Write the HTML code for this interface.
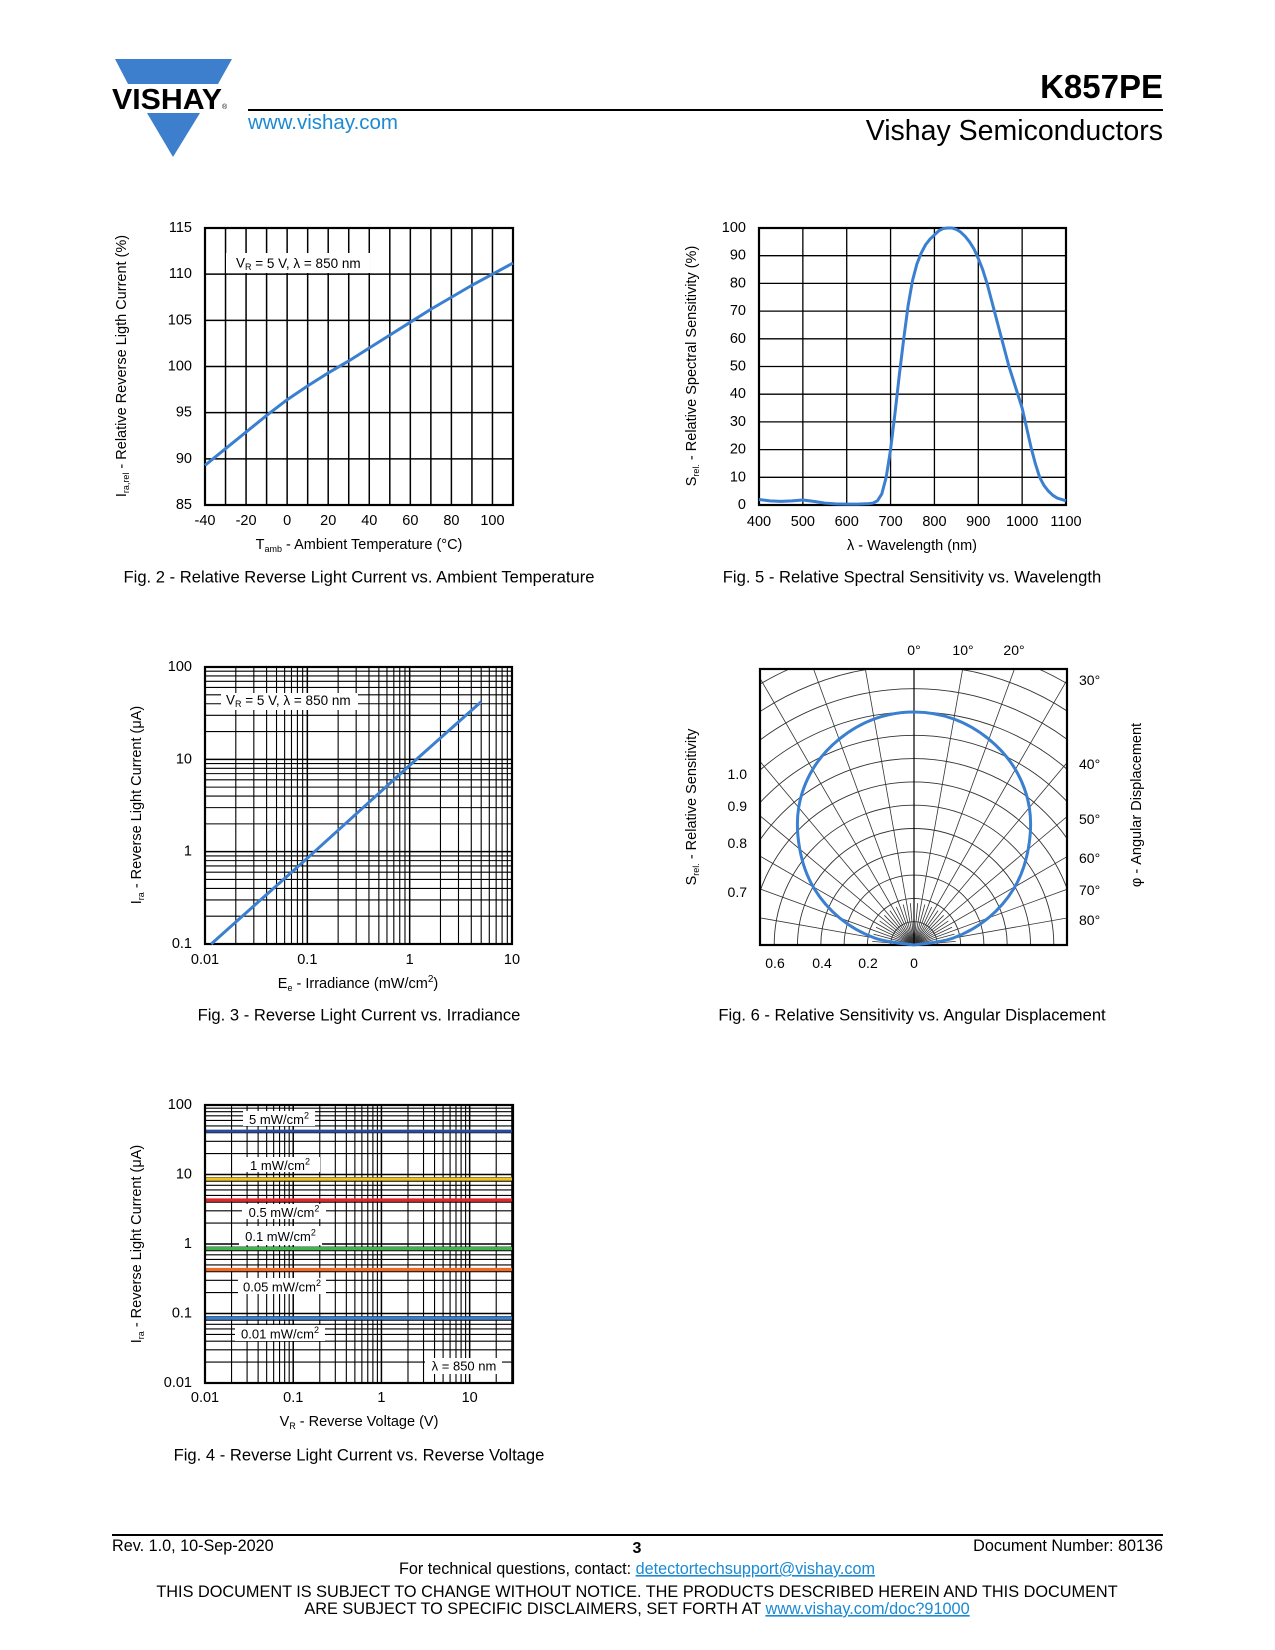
<!DOCTYPE html>
<html><head><meta charset="utf-8">
<style>
html,body{margin:0;padding:0;background:#fff;}
svg{display:block;font-family:"Liberation Sans",Arial,sans-serif;}
text{fill:#000;}
</style></head>
<body>
<svg id="page" width="1275" height="1650" viewBox="0 0 1275 1650" xmlns="http://www.w3.org/2000/svg">
<!-- header -->
<g>
  <polygon points="115,59 232,59 218,84 128,84" fill="#3d7fcc"/>
  <text x="112" y="109" font-size="29" font-weight="bold" textLength="110" lengthAdjust="spacingAndGlyphs">VISHAY</text>
  <text x="222" y="109" font-size="7">®</text>
  <polygon points="147,113 200,113 173,157" fill="#3d7fcc"/>
  <line x1="248" y1="110" x2="1163" y2="110" stroke="#000" stroke-width="2"/>
  <text x="248" y="129" font-size="20.5" style="fill:#1a8ad4">www.vishay.com</text>
  <text x="1163" y="98" font-size="33" font-weight="bold" text-anchor="end">K857PE</text>
  <text x="1163" y="140" font-size="28.5" text-anchor="end">Vishay Semiconductors</text>
</g>
<g id="charts"></g>
<!-- footer -->
<g>
  <line x1="112" y1="1535" x2="1163" y2="1535" stroke="#000" stroke-width="2"/>
  <text x="112" y="1551" font-size="16.2">Rev. 1.0, 10-Sep-2020</text>
  <text x="637" y="1553" font-size="16" font-weight="bold" text-anchor="middle">3</text>
  <text x="1163" y="1551" font-size="16.2" text-anchor="end">Document Number: 80136</text>
  <text x="637" y="1574" font-size="16.2" text-anchor="middle">For technical questions, contact: <tspan style="fill:#1a8ad4" text-decoration="underline">detectortechsupport@vishay.com</tspan></text>
  <text x="637" y="1597" font-size="16.3" text-anchor="middle">THIS DOCUMENT IS SUBJECT TO CHANGE WITHOUT NOTICE. THE PRODUCTS DESCRIBED HEREIN AND THIS DOCUMENT</text>
  <text x="637" y="1614" font-size="16.3" text-anchor="middle">ARE SUBJECT TO SPECIFIC DISCLAIMERS, SET FORTH AT <tspan style="fill:#1a8ad4" text-decoration="underline">www.vishay.com/doc?91000</tspan></text>
</g>
</svg>
<script>
// ---------- Fig 2 data ----------
const fig2Temps = [-40,-30,-20,-10,0,10,20,30,40,50,60,70,80,90,100,110];
const fig2Current = [89.3,91.1,92.9,94.7,96.4,97.9,99.3,100.6,102,103.4,104.8,106.2,107.5,108.8,110,111.2];
const fig2XTicks = [-40,-20,0,20,40,60,80,100];
const fig2YTicks = [85,90,95,100,105,110,115];
// ---------- Fig 5 data ----------
const fig5Wavelength = [400,425,450,475,500,525,550,575,600,625,650,660,670,680,690,700,710,720,730,740,750,760,770,780,790,800,810,820,830,840,850,860,870,880,890,900,910,920,930,940,950,960,970,980,990,1000,1010,1020,1030,1040,1050,1060,1070,1080,1090,1100];
const fig5Sensitivity = [2,1.5,1.3,1.5,1.8,1.3,0.7,0.4,0.3,0.3,0.5,0.7,1.5,4,10,20,33,47,60,72,81,87,91,94,96,97.5,99,99.8,100,100,99.5,98.5,97,95,92.5,89,85,80,74,68,62,56,50,45,40,35,28,21,15,10,7,5,3.5,2.5,2,1.5];
const fig5XTicks = [400,500,600,700,800,900,1000,1100];
const fig5YTicks = [0,10,20,30,40,50,60,70,80,90,100];
// ---------- Fig 3 data ----------
const fig3Irradiance = [0.0115,0.1,1,5];
const fig3Current = [0.1,0.85,8.6,42];
const fig3XTicks = [0.01,0.1,1,10];
const fig3XTickLabels = ['0.01','0.1','1','10'];
const fig3YTicks = [0.1,1,10,100];
const fig3YTickLabels = ['0.1','1','10','100'];
// ---------- Fig 4 data ----------
const fig4Labels = ['5 mW/cm','1 mW/cm','0.5 mW/cm','0.1 mW/cm','0.05 mW/cm','0.01 mW/cm'];
const fig4Current = [42,8.6,4.3,0.86,0.43,0.086];
const fig4VoltageRange = [0.01,31];
const fig4XTicks = [0.01,0.1,1,10];
const fig4XTickLabels = ['0.01','0.1','1','10'];
const fig4YTicks = [0.01,0.1,1,10,100];
const fig4YTickLabels = ['0.01','0.1','1','10','100'];
// ---------- Fig 6 data ----------
const fig6Angles = [0,10,20,30,40,50,60,70,80,90];
const fig6Sensitivity = [1,0.985,0.94,0.87,0.77,0.64,0.5,0.34,0.17,0];

const NS = 'http://www.w3.org/2000/svg';
const root = document.getElementById('charts');
function el(tag, parent, name, inter) {
  const e = document.createElementNS(NS, tag);
  
  
  parent.appendChild(e);
  return e;
}
function attrs(e, o) { for (const k in o) e.setAttribute(k, o[k]); return e; }
function txt(parent, name, x, y, s, size, anchor) {
  const t = el('text', parent, name, false);
  attrs(t, {x: x, y: y, 'font-size': size || 14.5, 'text-anchor': anchor || 'middle', 'dominant-baseline': 'central'});
  t.textContent = s;
  return t;
}
function line(parent, name, x1, y1, x2, y2, w, c) {
  const l = el('line', parent, name, false);
  attrs(l, {x1: x1, y1: y1, x2: x2, y2: y2, stroke: c || '#000', 'stroke-width': w || 1.2});
  return l;
}
function whiteBox(parent, name, x, y, w, h) {
  const r = el('rect', parent, name, false);
  attrs(r, {x: x, y: y, width: w, height: h, fill: '#fff'});
  return r;
}
function frame(parent, x0, y0, x1, y1) {
  const r = el('rect', parent, 'plot-frame', false);
  attrs(r, {x: x0, y: y0, width: x1 - x0, height: y1 - y0, fill: 'none', stroke: '#000', 'stroke-width': 2.2});
}
function rotTitle(parent, name, x, y, main, sub, rest, size) {
  const t = el('text', parent, name, false);
  attrs(t, {x: x, y: y, 'font-size': size || 14.5, 'text-anchor': 'middle', 'dominant-baseline': 'central', transform: 'rotate(-90 ' + x + ' ' + y + ')'});
  t.innerHTML = main + (sub ? '<tspan font-size="9" dy="4">' + sub + '</tspan><tspan dy="-4">' + rest + '</tspan>' : rest);
  return t;
}
function subTitle(parent, name, x, y, main, sub, rest, size) {
  const t = el('text', parent, name, false);
  attrs(t, {x: x, y: y, 'font-size': size || 14.5, 'text-anchor': 'middle', 'dominant-baseline': 'central'});
  t.innerHTML = main + (sub ? '<tspan font-size="9" dy="4">' + sub + '</tspan><tspan dy="-4">' + rest + '</tspan>' : rest);
  return t;
}
const BLUE = '#3a7fd0';
const CAP = 16.6;

// ================= Fig 2 =================
(function(){
  const g = el('g', root, 'fig2-temperature-chart', false);
  const X0 = 205, X1 = 513, Y0 = 228, Y1 = 505;
  const xs = v => X0 + (v - (-40)) / 150 * (X1 - X0);
  const ys = v => Y1 - (v - 85) / 30 * (Y1 - Y0);
  for (let v = -30; v < 110; v += 10) line(g, 'grid-vertical', xs(v), Y0, xs(v), Y1, 1.5);
  for (let v = 90; v < 115; v += 5) line(g, 'grid-horizontal', X0, ys(v), X1, ys(v), 1.5);
  whiteBox(g, 'condition-label-box', 226, 253, 144, 20);
  const lab = txt(g, 'condition-label', 236, 263, '', 13.5, 'start');
  lab.innerHTML = 'V<tspan font-size="9" dy="4">R</tspan><tspan dy="-4"> = 5 V, λ = 850 nm</tspan>';
  frame(g, X0, Y0, X1, Y1);
  const p = el('polyline', g, 'relative-current-curve', false);
  attrs(p, {points: fig2Temps.map((t, i) => xs(t) + ',' + ys(fig2Current[i])).join(' '), fill: 'none', stroke: BLUE, 'stroke-width': 3});
  fig2XTicks.forEach(v => txt(g, 'x-tick-label', xs(v), 521, String(v)));
  fig2YTicks.forEach(v => txt(g, 'y-tick-label', 192, ys(v), String(v), 14.5, 'end'));
  subTitle(g, 'x-axis-title', 359, 545, 'T', 'amb', ' - Ambient Temperature (°C)');
  rotTitle(g, 'y-axis-title', 122, 366, 'I', 'ra,rel', ' - Relative Reverse Ligth Current (%)');
  txt(g, 'figure-caption', 359, 577, 'Fig. 2 - Relative Reverse Light Current vs. Ambient Temperature', CAP);
})();

// ================= Fig 5 =================
(function(){
  const g = el('g', root, 'fig5-spectral-chart', false);
  const X0 = 759, X1 = 1066, Y0 = 228, Y1 = 505;
  const xs = v => X0 + (v - 400) / 700 * (X1 - X0);
  const ys = v => Y1 - v / 100 * (Y1 - Y0);
  for (let v = 500; v < 1100; v += 100) line(g, 'grid-vertical', xs(v), Y0, xs(v), Y1, 1.3);
  for (let v = 10; v < 100; v += 10) line(g, 'grid-horizontal', X0, ys(v), X1, ys(v), 1.3);
  frame(g, X0, Y0, X1, Y1);
  const p = el('polyline', g, 'spectral-sensitivity-curve', false);
  attrs(p, {points: fig5Wavelength.map((w, i) => xs(w) + ',' + ys(fig5Sensitivity[i])).join(' '), fill: 'none', stroke: BLUE, 'stroke-width': 3, 'stroke-linejoin': 'round'});
  fig5XTicks.forEach(v => txt(g, 'x-tick-label', xs(v), 522, String(v)));
  fig5YTicks.forEach(v => txt(g, 'y-tick-label', 746, ys(v), String(v), 14.5, 'end'));
  txt(g, 'x-axis-title', 912, 546, 'λ - Wavelength (nm)');
  rotTitle(g, 'y-axis-title', 692, 366, 'S', 'rel.', ' - Relative Spectral Sensitivity (%)');
  txt(g, 'figure-caption', 912, 577, 'Fig. 5 - Relative Spectral Sensitivity vs. Wavelength', CAP);
})();

function logGrid(g, X0, X1, Y0, Y1, xmin, xmax, ymin, ymax) {
  const lx0 = Math.log10(xmin), lx1 = Math.log10(xmax), ly0 = Math.log10(ymin), ly1 = Math.log10(ymax);
  const xs = v => X0 + (Math.log10(v) - lx0) / (lx1 - lx0) * (X1 - X0);
  const ys = v => Y1 - (Math.log10(v) - ly0) / (ly1 - ly0) * (Y1 - Y0);
  for (let d = Math.floor(lx0); d < lx1; d++) for (let m = 1; m <= 9; m++) {
    const v = m * Math.pow(10, d);
    if (v > xmin * 1.0001 && v < xmax * 0.999) line(g, 'grid-vertical', xs(v), Y0, xs(v), Y1, m === 1 ? 1.5 : 1.1);
  }
  for (let d = Math.floor(ly0); d < ly1; d++) for (let m = 1; m <= 9; m++) {
    const v = m * Math.pow(10, d);
    if (v > ymin * 1.0001 && v < ymax * 0.999) line(g, 'grid-horizontal', X0, ys(v), X1, ys(v), m === 1 ? 1.5 : 1.1);
  }
  return [xs, ys];
}

// ================= Fig 3 =================
(function(){
  const g = el('g', root, 'fig3-irradiance-chart', false);
  const X0 = 205, X1 = 512, Y0 = 667, Y1 = 944;
  const [xs, ys] = logGrid(g, X0, X1, Y0, Y1, 0.01, 10, 0.1, 100);
  whiteBox(g, 'condition-label-box', 221, 693, 137, 17);
  const lab = txt(g, 'condition-label', 226, 700, '', 13.5, 'start');
  lab.innerHTML = 'V<tspan font-size="9" dy="4">R</tspan><tspan dy="-4"> = 5 V, λ = 850 nm</tspan>';
  frame(g, X0, Y0, X1, Y1);
  const p = el('polyline', g, 'current-vs-irradiance-line', false);
  attrs(p, {points: fig3Irradiance.map((e, i) => xs(e) + ',' + ys(fig3Current[i])).join(' '), fill: 'none', stroke: BLUE, 'stroke-width': 3});
  fig3XTicks.forEach((v, i) => txt(g, 'x-tick-label', xs(v), 960, fig3XTickLabels[i]));
  fig3YTicks.forEach((v, i) => txt(g, 'y-tick-label', 192, ys(v), fig3YTickLabels[i], 14.5, 'end'));
  const xt = subTitle(g, 'x-axis-title', 358, 984, 'E', 'e', ' - Irradiance (mW/cm');
  xt.innerHTML += '<tspan font-size="10" dy="-5">2</tspan><tspan dy="5">)</tspan>';
  rotTitle(g, 'y-axis-title', 137, 805, 'I', 'ra', ' - Reverse Light Current (μA)');
  txt(g, 'figure-caption', 359, 1015, 'Fig. 3 - Reverse Light Current vs. Irradiance', CAP);
})();

// ================= Fig 4 =================
(function(){
  const g = el('g', root, 'fig4-voltage-chart', false);
  const X0 = 205, X1 = 513, Y0 = 1105, Y1 = 1383;
  const [xs, ys] = logGrid(g, X0, X1, Y0, Y1, fig4VoltageRange[0], fig4VoltageRange[1], 0.01, 100);
  const colors = ['#2b4b9b','#f2c31b','#e6232a','#3db54a','#f26a22','#3a7fd0'];
  const boxes = [[243,1111,72,15],[240,1157,80,15],[242,1204,84,15],[239,1226,83,19],[238,1278,88,16],[235,1325,90,16]];
  fig4Current.forEach((c, i) => {
    const l = el('line', g, 'series-line-' + fig4Labels[i].split(' ')[0] + '-mw', false);
    attrs(l, {x1: X0, x2: X1, y1: ys(c), y2: ys(c), stroke: colors[i], 'stroke-width': 3.2});
  });
  fig4Labels.forEach((s, i) => {
    const b = boxes[i];
    whiteBox(g, 'series-label-box', b[0], b[1], b[2], b[3]);
    const t = txt(g, 'series-label', b[0] + b[2] / 2, b[1] + b[3] / 2 + 1, '', 13);
    t.innerHTML = s + '<tspan font-size="9" dy="-4">2</tspan>';
  });
  whiteBox(g, 'wavelength-label-box', 425, 1358, 77, 16);
  txt(g, 'wavelength-label', 464, 1366, 'λ = 850 nm', 13);
  frame(g, X0, Y0, X1, Y1);
  fig4XTicks.forEach((v, i) => txt(g, 'x-tick-label', xs(v), 1398, fig4XTickLabels[i]));
  fig4YTicks.forEach((v, i) => txt(g, 'y-tick-label', 192, ys(v), fig4YTickLabels[i], 14.5, 'end'));
  subTitle(g, 'x-axis-title', 359, 1422, 'V', 'R', ' - Reverse Voltage (V)');
  rotTitle(g, 'y-axis-title', 137, 1244, 'I', 'ra', ' - Reverse Light Current (μA)');
  txt(g, 'figure-caption', 359, 1455, 'Fig. 4 - Reverse Light Current vs. Reverse Voltage', CAP);
})();

// ================= Fig 6 =================
(function(){
  const g = el('g', root, 'fig6-angular-chart', false);
  const X0 = 760, X1 = 1067, Y0 = 669, Y1 = 945;
  const cx = 914, cy = 945, R = 233;
  const clip = el('clipPath', g, 'polar-clip', false);
  clip.setAttribute('id', 'polclip');
  const cr = el('rect', clip, 'polar-clip-rect', false);
  attrs(cr, {x: X0, y: Y0, width: X1 - X0, height: Y1 - Y0});
  const gg = el('g', g, 'polar-grid', false);
  gg.setAttribute('clip-path', 'url(#polclip)');
  const px = (r, a) => cx + r * R * Math.sin(a * Math.PI / 180);
  const py = (r, a) => cy - r * R * Math.cos(a * Math.PI / 180);
  for (let k = 1; k <= 14; k++) {
    const c = el('circle', gg, 'grid-arc', false);
    attrs(c, {cx: cx, cy: cy, r: k * 0.1 * R, fill: 'none', stroke: '#333', 'stroke-width': 0.9});
  }
  for (let a = -90; a <= 90; a += 5) {
    const rr = (a % 10 === 0) ? 2 : 0.18;
    line(gg, 'grid-radial', cx, cy, px(rr, a), py(rr, a), 0.8, '#333');
  }
  line(gg, 'zero-axis', cx, Y0, cx, cy, 1.2, '#000');
  frame(g, X0, Y0, X1, Y1);
  const pts = [];
  for (let i = fig6Angles.length - 1; i >= 0; i--) pts.push([px(fig6Sensitivity[i], -fig6Angles[i]), py(fig6Sensitivity[i], -fig6Angles[i])]);
  for (let i = 1; i < fig6Angles.length; i++) pts.push([px(fig6Sensitivity[i], fig6Angles[i]), py(fig6Sensitivity[i], fig6Angles[i])]);
  let d = 'M' + pts[0][0] + ',' + pts[0][1];
  for (let i = 0; i < pts.length - 1; i++) {
    const p0 = pts[Math.max(i - 1, 0)], p1 = pts[i], p2 = pts[i + 1], p3 = pts[Math.min(i + 2, pts.length - 1)];
    d += ' C' + (p1[0] + (p2[0] - p0[0]) / 6) + ',' + (p1[1] + (p2[1] - p0[1]) / 6) + ' ' + (p2[0] - (p3[0] - p1[0]) / 6) + ',' + (p2[1] - (p3[1] - p1[1]) / 6) + ' ' + p2[0] + ',' + p2[1];
  }
  const curve = el('path', g, 'sensitivity-curve', false);
  attrs(curve, {d: d, fill: 'none', stroke: BLUE, 'stroke-width': 3});
  [['0°',914],['10°',963],['20°',1014]].forEach(v => txt(g, 'top-angle-label', v[1], 650, v[0], 14));
  [['30°',680],['40°',764],['50°',819],['60°',858],['70°',890],['80°',920]].forEach(v => txt(g, 'right-angle-label', 1079, v[1], v[0], 14, 'start'));
  [['1.0',774],['0.9',806],['0.8',843],['0.7',892]].forEach(v => txt(g, 'left-scale-label', 747, v[1], v[0], 14, 'end'));
  [['0.6',775],['0.4',822],['0.2',868],['0',914]].forEach(v => txt(g, 'bottom-scale-label', v[1], 963, v[0], 14));
  rotTitle(g, 'y-axis-title', 692, 807, 'S', 'rel.', ' - Relative Sensitivity');
  rotTitle(g, 'right-axis-title', 1137, 805, 'φ - Angular Displacement', '', '');
  txt(g, 'figure-caption', 912, 1015, 'Fig. 6 - Relative Sensitivity vs. Angular Displacement', CAP);
})();
</script>
</body></html>
